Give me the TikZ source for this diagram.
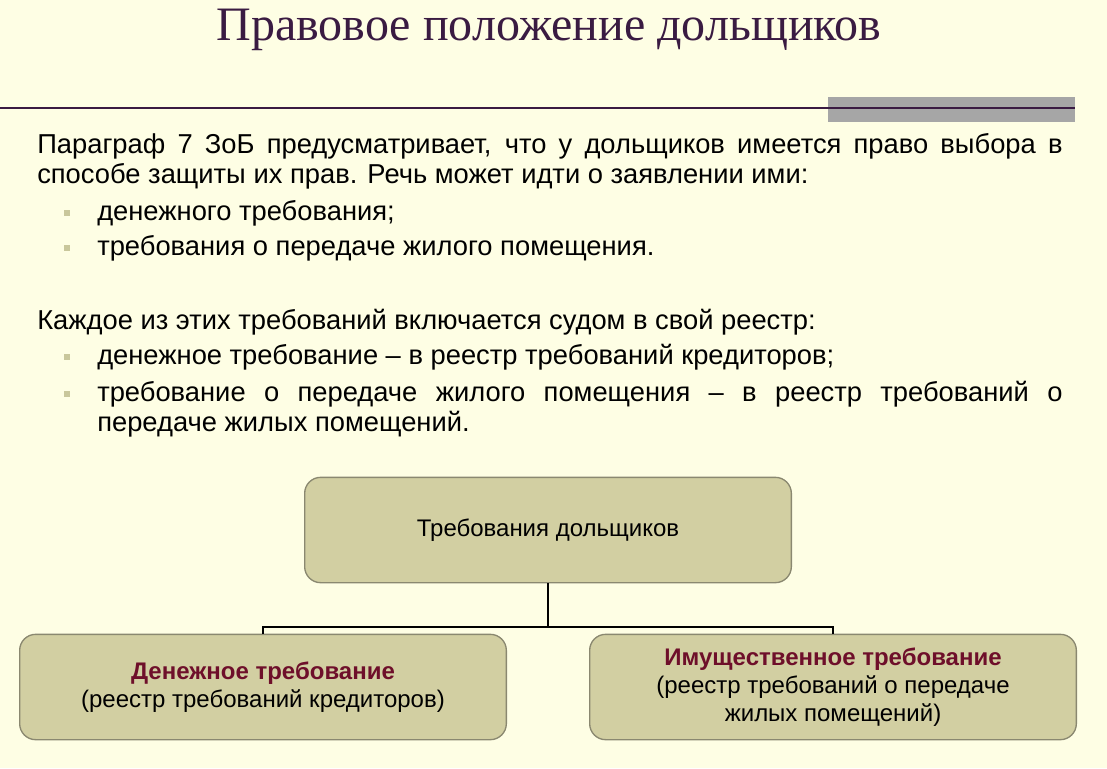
\documentclass[tikz,border=0pt]{standalone}
\usepackage{fontspec}
\setmainfont{Liberation Sans}
\newfontfamily\titlefont{Liberation Serif}
\usetikzlibrary{positioning}
\definecolor{bgcream}{HTML}{FEFEE4}
\definecolor{titlepurple}{HTML}{3A1B42}
\definecolor{boxfill}{HTML}{D2CFA2}
\definecolor{boxline}{HTML}{8A8870}
\definecolor{bulletc}{HTML}{C9C79B}
\definecolor{redtext}{HTML}{6E0F2A}
\tikzset{
  para/.style={anchor=north west,inner sep=0pt,text width=769pt,align=justify,font=\fontsize{20.5}{22.5}\selectfont},
  item/.style={anchor=north west,inner sep=0pt,text width=724pt,align=justify,font=\fontsize{20.5}{22.5}\selectfont},
  bull/.style={fill=bulletc,minimum size=5pt,inner sep=0pt},
  reqbox/.style={draw=boxline,fill=boxfill,rounded corners=12pt,line width=1pt,
    minimum width=365pt,minimum height=79pt,align=center,font=\fontsize{18}{21}\selectfont}
}
\begin{document}
\begin{tikzpicture}[x=0.75pt,y=-0.75pt]
        \fill[bgcream](0,0)rectangle(1107,768);
        \useasboundingbox(0,0)rectangle(1107,768);
        % title and rule
        \node (title) at (549,30){\titlefont\fontsize{36}{40}\selectfont\color{titlepurple}Правовое положение дольщиков};
        \fill[gray!70](828,97)rectangle(1075,122);
        \draw[titlepurple,line width=2pt](0,108)--(1075,108);
        % text
        \node[para] (p1) at (37,133){Параграф 7 ЗоБ предусматривает, что у дольщиков имеется право выбора в способе защиты их прав. Речь может идти о заявлении ими:};
        \node[item] (i1) at (97,200){денежного требования;};
        \node[item] (i2) at (97,235){требования о передаче жилого помещения.};
        \node[para] (p2) at (37,309){Каждое из этих требований включается судом в свой реестр:};
        \node[item] (i3) at (97,344){денежное требование -- в реестр требований кредиторов;};
        \node[item] (i4) at (97,381){требование о передаче жилого помещения -- в реестр требований о передаче жилых помещений.};
        \foreach \y in {213,248,357,394}
            \node[bull] at (67,\y){};
        % boxes
        \node[reqbox] (top) at (548,530){Требования дольщиков};
        \node[reqbox] (money) at (263,687){\textbf{\color{redtext}Денежное требование}\\(реестр требований кредиторов)};
        \node[reqbox] (prop) at (833,687){\textbf{\color{redtext}Имущественное требование}\\(реестр требований о передаче\\жилых помещений)};
        \coordinate (split) at (548,627);
        \draw[line width=1.8pt](top.south)--(split);
        \draw[line width=1.8pt](money.north)|-(split)-|(prop.north);
    \end{tikzpicture}
\end{document}
